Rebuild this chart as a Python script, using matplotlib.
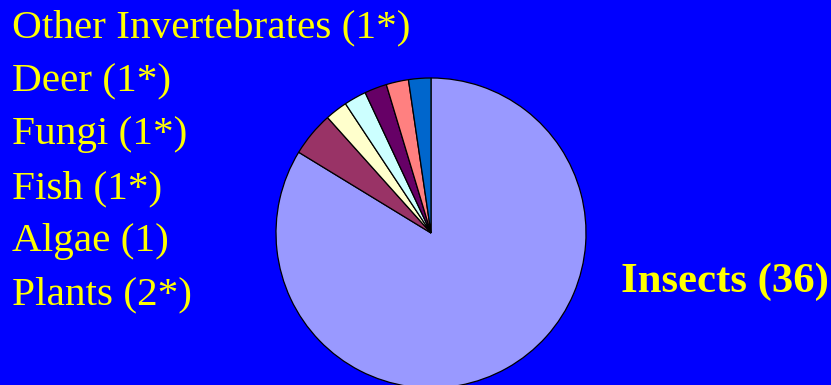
import matplotlib
matplotlib.use('Agg')
import matplotlib.pyplot as plt

# groups and counts (clockwise from 12 o'clock)
groups = ['Insects', 'Plants', 'Algae', 'Fish', 'Fungi', 'Deer', 'Other Invertebrates']
counts = [36, 2, 1, 1, 1, 1, 1]
colors = ['#9999FF', '#993366', '#FFFFCC', '#CCFFFF', '#660066', '#FF8080', '#0066CC']
left_labels = ['Other Invertebrates (1*)', 'Deer (1*)', 'Fungi (1*)', 'Fish (1*)',
               'Algae (1)', 'Plants (2*)']

W, H = 831, 385
fig = plt.figure(figsize=(W / 100, H / 100), dpi=100, facecolor='#0000FF')

# pie axes: centre (431, 233) px, radius 155 px
r = 155
lim = 1.04
side = 2 * r * lim
ax = fig.add_axes([(431 - side / 2) / W, (H - 233 - side / 2) / H, side / W, side / H])
ax.pie(counts, colors=colors, startangle=90, counterclock=False,
       wedgeprops={'edgecolor': 'black', 'linewidth': 0.9})
ax.set_xlim(-lim, lim)
ax.set_ylim(-lim, lim)
ax.set_aspect('equal')
ax.axis('off')

serif = ['Liberation Serif', 'DejaVu Serif']
baselines = [38, 91, 144, 198, 251, 304]
for lab, yb in zip(left_labels, baselines):
    fig.text(12 / W, 1 - yb / H, lab, color='#FFFF00', fontsize=29.7,
             family=serif, ha='left', va='baseline')

fig.text(621 / W, 1 - 292 / H, 'Insects (36)', color='#FFFF00', fontsize=30.8,
         fontweight='bold', family=serif, ha='left', va='baseline')

fig.savefig('out.png', dpi=100, facecolor=fig.get_facecolor())
